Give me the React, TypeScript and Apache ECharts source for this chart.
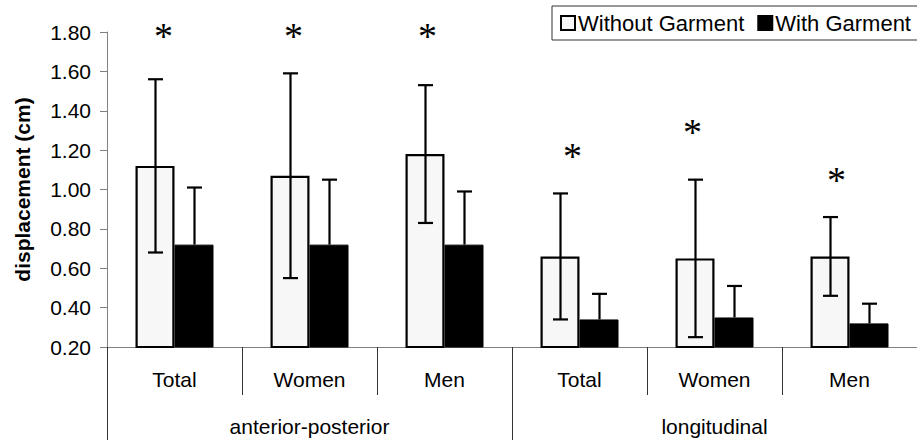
import React, { useEffect, useRef } from "react";
import * as echarts from "echarts";

// Category labels (inner row) and grouping labels (outer row)
const categories = ["Total", "Women", "Men", "Total", "Women", "Men"];
const groups = ["anterior-posterior", "longitudinal"];
const seriesNames = ["Without Garment", "With Garment"];

// Mean displacement (cm) and standard deviation per category
const withoutMean = [1.12, 1.07, 1.18, 0.66, 0.65, 0.66];
const withoutSD = [0.44, 0.52, 0.35, 0.32, 0.4, 0.2];
const withMean = [0.72, 0.72, 0.72, 0.34, 0.35, 0.32];
const withSD = [0.29, 0.33, 0.27, 0.13, 0.16, 0.1];

// Height of the significance markers (in axis units)
const starLevel = [1.8, 1.8, 1.8, 1.19, 1.31, 1.07];

// Value axis ticks
const yMin = 0.2;
const yMax = 1.8;
const yStep = 0.2;

// Layout constants
const BAR_W = 39;
const CAP_W = 15;
const starShift = [-11, -16, -17, -7, -22, -13];
const FONT = "'Liberation Sans', Arial, sans-serif";

export default function App() {
  const ref = useRef<HTMLDivElement>(null);

  useEffect(() => {
    if (!ref.current) return;
    const chart = echarts.init(ref.current, null, { renderer: "svg" });

    // [category, low, high]; filled bars only need the upper whisker
    const errData = (mean: number[], sd: number[], upperOnly: boolean) =>
      mean.map((m, i) => [i, upperOnly ? m : +(m - sd[i]).toFixed(3), +(m + sd[i]).toFixed(3)]);

    const errorSeries = (name: string, mean: number[], sd: number[], shift: number, upperOnly: boolean) => ({
      type: "custom",
      name: name + " SD",
      xAxisIndex: 0,
      z: 5,
      silent: true,
      encode: { x: 0, y: [1, 2] },
      data: errData(mean, sd, upperOnly),
      renderItem: (_params: any, api: any) => {
        const idx = api.value(0);
        const lo = api.coord([idx, api.value(1)]);
        const hi = api.coord([idx, api.value(2)]);
        const cx = Math.round(hi[0] + shift) + 0.5;
        const st = { stroke: "#000", lineWidth: 2.2 };
        const children: any[] = [
          { type: "line", shape: { x1: cx, y1: hi[1], x2: cx, y2: lo[1] }, style: st },
          { type: "line", shape: { x1: cx - CAP_W / 2, y1: hi[1], x2: cx + CAP_W / 2, y2: hi[1] }, style: st },
        ];
        if (!upperOnly) {
          children.push({
            type: "line",
            shape: { x1: cx - CAP_W / 2, y1: lo[1], x2: cx + CAP_W / 2, y2: lo[1] },
            style: st,
          });
        }
        return { type: "group", children };
      },
    });

    chart.setOption({
      animation: false,
      backgroundColor: "#fff",
      textStyle: { fontFamily: FONT },
      legend: {
        left: 552,
        top: 6,
        width: 420,
        orient: "horizontal",
        padding: [6, 30, 6, 8],
        itemWidth: 14,
        itemHeight: 14,
        itemGap: 13,
        icon: "rect",
        borderColor: "#333",
        borderWidth: 1,
        data: seriesNames,
        textStyle: { fontSize: 22, color: "#000", fontFamily: FONT, padding: [0, 0, 0, -2] },
      },
      grid: { left: 107, right: 0, top: 32, bottom: 96, containLabel: false },
      xAxis: [
        {
          type: "category",
          data: categories,
          position: "bottom",
          axisLine: { show: true, lineStyle: { color: "#808080", width: 1 } },
          axisTick: { show: true, interval: 0, length: 48, lineStyle: { color: "#333", width: 1 } },
          axisLabel: { interval: 0, margin: 22, fontSize: 21, color: "#000", fontFamily: FONT },
        },
        {
          type: "category",
          data: groups,
          position: "bottom",
          axisLine: { show: false },
          axisTick: { show: true, interval: 0, length: 93, lineStyle: { color: "#333", width: 1 } },
          axisLabel: { interval: 0, margin: 69, fontSize: 21, color: "#000", fontFamily: FONT },
        },
      ],
      yAxis: {
        type: "value",
        min: yMin,
        max: yMax,
        interval: yStep,
        name: "displacement (cm)",
        nameLocation: "middle",
        nameGap: 74,
        nameTextStyle: { fontSize: 21, fontWeight: "bold", color: "#000", fontFamily: FONT },
        axisLine: { show: true, lineStyle: { color: "#808080", width: 1 } },
        axisTick: { show: true, length: 7, lineStyle: { color: "#808080" } },
        axisLabel: {
          margin: 16,
          fontSize: 21,
          color: "#000",
          fontFamily: FONT,
          formatter: (v: number) => v.toFixed(2),
        },
        splitLine: { show: false },
      },
      series: [
        {
          type: "bar",
          name: seriesNames[0],
          data: withoutMean,
          barWidth: BAR_W,
          barGap: "0%",
          itemStyle: { color: "#f7f7f7", borderColor: "#000", borderWidth: 2.2 },
          z: 2,
        },
        {
          type: "bar",
          name: seriesNames[1],
          data: withMean,
          barWidth: BAR_W,
          barGap: "0%",
          itemStyle: { color: "#000", borderColor: "#000", borderWidth: 1 },
          z: 2,
        },
        errorSeries(seriesNames[0], withoutMean, withoutSD, -BAR_W / 2, false),
        errorSeries(seriesNames[1], withMean, withSD, BAR_W / 2, true),
        {
          type: "custom",
          name: "significance",
          xAxisIndex: 0,
          z: 6,
          silent: true,
          encode: { x: 0, y: 1 },
          data: starLevel.map((v, i) => [i, v]),
          renderItem: (params: any, api: any) => {
            const p = api.coord([api.value(0), api.value(1)]);
            return {
              type: "text",
              x: p[0] + starShift[params.dataIndex],
              y: p[1] + 4,
              style: {
                text: "*",
                fontSize: 38,
                fontFamily: "'Liberation Serif', 'Times New Roman', serif",
                fill: "#000",
                align: "center",
                verticalAlign: "middle",
              },
            };
          },
        },
      ],
    });

    return () => chart.dispose();
  }, []);

  return <div ref={ref} style={{ width: 917, height: 443, position: "absolute", left: 0, top: 0 }} />;
}
